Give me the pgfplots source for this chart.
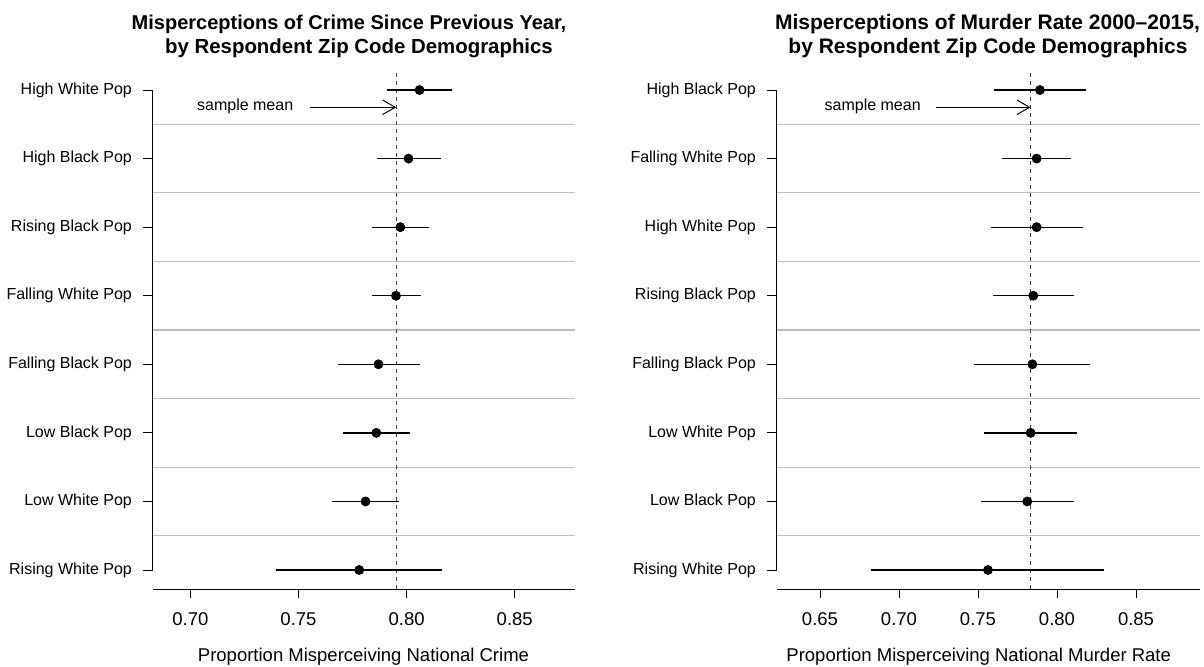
\documentclass[border=0pt]{standalone}
\usepackage{fontspec}
\setmainfont{Liberation Sans}
\usepackage{pgfplots}
\usepackage{pgfplotstable}
\pgfplotsset{compat=1.18}
\usetikzlibrary{arrows.meta}
\definecolor{sepgray}{RGB}{190,190,190}

% row: 1 = bottom, 8 = top
\pgfplotstableread{
r v em ep
8 0.8060 0.0149 0.0150
7 0.8009 0.0148 0.0150
6 0.7971 0.0133 0.0133
5 0.7951 0.0113 0.0114
4 0.7870 0.0188 0.0190
3 0.7860 0.0155 0.0156
2 0.7810 0.0154 0.0155
1 0.7781 0.0383 0.0384
}\leftdata
\pgfplotstableread{
r v em ep
8 0.7892 0.0289 0.0289
7 0.7871 0.0217 0.0220
6 0.7871 0.0289 0.0294
5 0.7850 0.0253 0.0258
4 0.7844 0.0369 0.0363
3 0.7833 0.0293 0.0292
2 0.7812 0.0293 0.0294
1 0.7563 0.0740 0.0736
}\rightdata

\pgfplotsset{
  forest/.style={
    scale only axis, anchor=south west,
    height=258pt,
    ymin=0.723, ymax=8.248,
    axis x line*=bottom, axis y line*=left,
    y axis line style={draw=none},
    x axis line style={-, line width=0.5pt},
    tick align=outside, major tick length=4.7pt,
    tick style={black, line width=0.5pt},
    ytick={1,...,8},
    minor ytick={1.5,2.5,...,7.5}, yminorgrids, minor tick length=0pt,
    minor grid style={sepgray, line width=0.6pt},
    xticklabel style={font=\fontsize{9.25}{11}\selectfont, anchor=base, yshift=-13.3pt},
    yticklabel style={font=\fontsize{8}{9.6}\selectfont, anchor=east, inner sep=0pt, xshift=-5.5pt},
    xlabel style={font=\fontsize{9.25}{11}\selectfont, anchor=base, yshift=-36.35pt},
    clip=false,
  },
  pts/.style={only marks, mark=*, mark size=2.25pt, black,
    error bars/.cd, x dir=both, x explicit, error mark=none,
    error bar style={line width=0.65pt, black}},
  meanline/.style={black!75, line width=0.55pt, dash pattern=on 2pt off 2pt},
}

\begin{document}
\begin{tikzpicture}[x=1pt,y=1pt]
\path[use as bounding box] (0,0) rectangle (602,333);

\begin{axis}[forest,
  at={(76.35pt,38.5pt)}, width=211.3pt,
  xmin=0.6826, xmax=0.878,
  xtick={0.70,0.75,0.80,0.85}, xticklabels={0.70,0.75,0.80,0.85},
  yticklabels={Rising White Pop, Low White Pop, Low Black Pop, Falling Black Pop, Falling White Pop, Rising Black Pop, High Black Pop, High White Pop},
  xlabel={Proportion Misperceiving National Crime},
  xlabel style={at={(axis description cs:0.4988,0)}},
]
\draw[line width=0.5pt] (axis cs:0.6826,1) -- (axis cs:0.6826,8);
\addplot[meanline] coordinates {(0.7952,0.723) (0.7952,8.248)};
\addplot[pts] table[x=v, y=r, x error plus=ep, x error minus=em] {\leftdata};
\node[anchor=base west, font=\fontsize{8}{9.6}\selectfont, inner sep=0pt] at (axis cs:0.70296,7.708) {sample mean};
\draw[-{Straight Barb[length=6.35pt,width=7.3pt]}, line width=0.5pt] (axis cs:0.7551,7.748) -- (axis cs:0.7952,7.748);
\end{axis}

\begin{axis}[forest,
  at={(388.35pt,38.5pt)}, width=211.4pt,
  xmin=0.6226, xmax=0.8902,
  xtick={0.65,0.70,0.75,0.80,0.85}, xticklabels={0.65,0.70,0.75,0.80,0.85},
  yticklabels={Rising White Pop, Low Black Pop, Low White Pop, Falling Black Pop, Rising Black Pop, High White Pop, Falling White Pop, High Black Pop},
  xlabel={Proportion Misperceiving National Murder Rate},
  xlabel style={at={(axis description cs:0.4778,0)}},
]
\draw[line width=0.5pt] (axis cs:0.6226,1) -- (axis cs:0.6226,8);
\addplot[meanline] coordinates {(0.7833,0.723) (0.7833,8.248)};
\addplot[pts] table[x=v, y=r, x error plus=ep, x error minus=em] {\rightdata};
\node[anchor=base west, font=\fontsize{8}{9.6}\selectfont, inner sep=0pt] at (axis cs:0.6527,7.708) {sample mean};
\draw[-{Straight Barb[length=6.35pt,width=7.3pt]}, line width=0.5pt] (axis cs:0.7232,7.748) -- (axis cs:0.7833,7.748);
\end{axis}

\node[font=\bfseries\fontsize{10}{12}\selectfont, anchor=base] at (174.5,318.5) {Misperceptions of Crime Since Previous Year,};
\node[font=\bfseries\fontsize{10.2}{12}\selectfont, anchor=base] at (179.5,306.35) {by Respondent Zip Code Demographics};
\node[font=\bfseries\fontsize{10.5}{12}\selectfont, anchor=base] at (493.75,318.5) {Misperceptions of Murder Rate 2000–2015,};
\node[font=\bfseries\fontsize{10.5}{12}\selectfont, anchor=base] at (494,306.35) {by Respondent Zip Code Demographics};
\end{tikzpicture}
\end{document}
